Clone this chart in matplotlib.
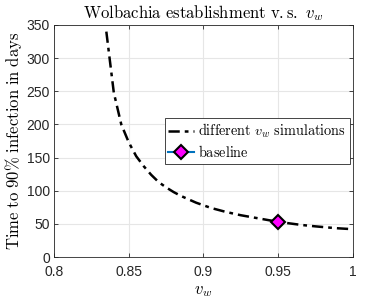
import numpy as np
import matplotlib.pyplot as plt

plt.rcParams['mathtext.fontset'] = 'cm'
plt.rcParams['font.family'] = ['Liberation Sans', 'DejaVu Sans']

# values
v_w = [0.835, 0.840, 0.845, 0.850, 0.855, 0.860, 0.865, 0.870, 0.875, 0.880,
       0.885, 0.890, 0.895, 0.900, 0.905, 0.910, 0.915, 0.920, 0.925, 0.930,
       0.935, 0.940, 0.945, 0.950, 0.955, 0.960, 0.965, 0.970, 0.975, 0.980,
       0.985, 0.990, 0.995, 1.000]
t90 = [340, 248, 200, 173, 152, 137, 124, 113, 105, 98,
       92, 87, 82, 78, 74, 71, 68, 65.5, 63, 61,
       59, 57, 55, 53, 51.5, 50, 48.5, 47.3, 46.2, 45.2,
       44.2, 43.3, 42.6, 42]
base_v = [0.95]
base_t = [53]

fig = plt.figure(figsize=(3.9, 3.04), dpi=100)
ax = fig.add_axes([0.1385, 0.1546, 0.7665, 0.7632])

ax.plot(v_w, t90, color='k', linestyle=(0, (4.5, 2, 1.5, 2)), linewidth=1.8,
        label=r'$\mathrm{different}\ v_w\ \mathrm{simulations}$')
ax.plot(base_v, base_t, '-D', color='#0072BD', linewidth=1.5, markerfacecolor='magenta',
        markeredgecolor='k', markeredgewidth=1.5, markersize=7.5,
        label=r'$\mathrm{baseline}$')

ax.set_xlim(0.8, 1.0)
ax.set_ylim(0, 350)
ax.set_xticks([0.8, 0.85, 0.9, 0.95, 1.0])
ax.set_xticklabels(['0.8', '0.85', '0.9', '0.95', '1'])
ax.set_yticks(range(0, 351, 50))
ax.grid(True, color='#e6e6e6', linewidth=0.8)
ax.set_axisbelow(True)
for s in ax.spines.values():
    s.set_color('#262626')
    s.set_linewidth(0.6)
ax.tick_params(direction='in', top=True, right=True, length=3, width=0.6,
               color='#262626', labelsize=10, labelcolor='#262626')
ax.tick_params(axis='x', pad=6)
ax.tick_params(axis='y', pad=3)

ax.set_title(r'$\mathrm{Wolbachia\ establishment\ v.s.\ }v_w$', fontsize=12, pad=5)
ax.set_xlabel(r'$v_w$', fontsize=12, labelpad=3)
ax.set_ylabel(r'$\mathrm{Time\ to\ 90\%\ infection\ in\ days}$', fontsize=12, labelpad=2)

leg = ax.legend(loc='center right', fontsize=10.3, fancybox=False, framealpha=1,
                edgecolor='#262626', borderaxespad=0.2, handlelength=1.8,
                handletextpad=0.3, borderpad=0.25, labelspacing=0.25)
leg.get_frame().set_linewidth(0.6)

fig.savefig('out.png', dpi=100)
